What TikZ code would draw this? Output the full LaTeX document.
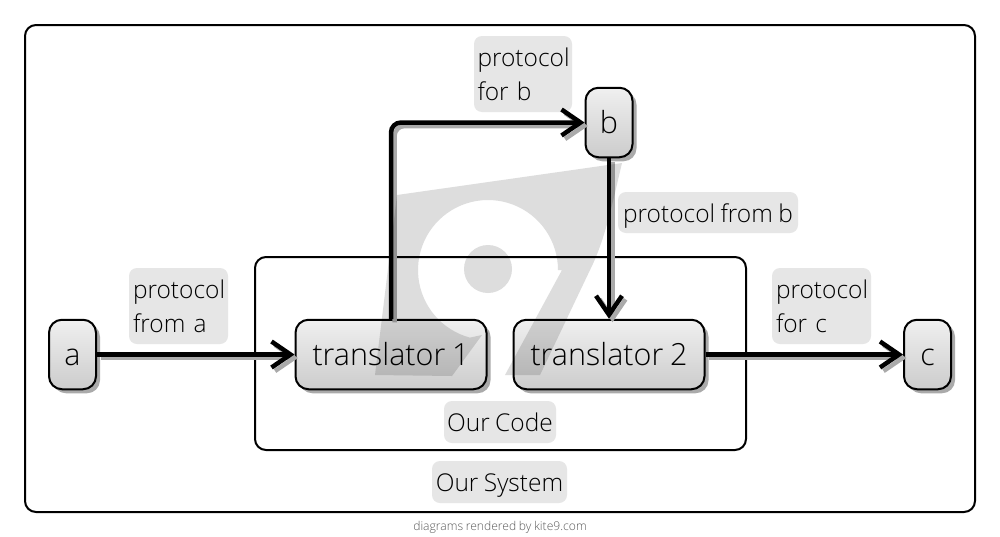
\documentclass[tikz,border=0pt]{standalone}
\usepackage{fontspec}
\setmainfont[WordSpace=0.85]{Open Sans Light}
\usetikzlibrary{arrows.meta,shadows}
\definecolor{logogray}{HTML}{DDDDDD}
\definecolor{labelgray}{HTML}{E6E6E6}
\definecolor{shadowgray}{HTML}{AAAAAA}
\tikzset{
  frame/.style={draw=black,line width=2pt,rounded corners=11pt,fill=none,inner sep=0pt},
  partbox/.style={draw=black,line width=2pt,rounded corners=13pt,inner sep=0pt,
    top color=white!94!black,bottom color=black!20,minimum height=69.5pt,
    text height=22.5pt,text depth=0pt,
    font=\fontsize{30.5}{34}\selectfont,
    general shadow={fill=shadowgray,shadow xshift=4pt,shadow yshift=-4pt}},
  tag/.style={fill=labelgray,rounded corners=8pt,inner sep=0pt,align=left,
    font=\fontsize{24.5}{34}\selectfont},
  onetag/.style={tag,align=center,text height=19pt,text depth=0pt},
  link/.style={draw=black,line width=4.5pt,rounded corners=10pt,
    -{Straight Barb[length=19pt,width=26pt,line width=4.5pt]}},
  linkshadow/.style={link,draw=shadowgray,transform canvas={shift={(3.5pt,-3.5pt)}}},
}
\begin{document}
\begin{tikzpicture}[x=1pt,y=-1pt]
\useasboundingbox (0,0) rectangle (1000,536);
\fill[white] (0,0) rectangle (1000,536);
% containers
\node[frame,minimum width=950pt,minimum height=487pt] (sys) at (500,268.5) {};
\node[frame,minimum width=491pt,minimum height=193pt] (code) at (500.5,353.5) {};
% labels
\node[tag,minimum width=99pt,minimum height=76pt,text width=91pt] (la) at (178.5,306) {protocol\\from a};
\node[tag,minimum width=98pt,minimum height=76pt,text width=91pt] (lb) at (523,74) {protocol\\for b};
\node[onetag,minimum width=180pt,minimum height=41pt] (lfb) at (708,212.5) {protocol from b};
\node[tag,minimum width=99pt,minimum height=76pt,text width=91pt] (lc) at (821.5,306) {protocol\\for c};
\node[onetag,minimum width=112pt,minimum height=42pt] (lcode) at (500,422) {Our Code};
\node[onetag,minimum width=135pt,minimum height=42pt] (lsys) at (499.5,482) {Our System};
% nodes (placed first so connectors can refer to them)
\node[partbox,minimum width=47pt] (a) at (72.5,354.5) {a};
\node[partbox,minimum width=47pt] (b) at (609,122.5) {b};
\node[partbox,minimum width=47pt] (c) at (927.5,354.5) {c};
\node[partbox,minimum width=191pt] (t1) at (391,354.5) {translator 1};
\node[partbox,minimum width=191pt] (t2) at (609,354.5) {translator 2};
% connectors: shadows
\draw[linkshadow] (a.east) -- (t1.west);
\draw[linkshadow] (t1.north) |- (b.west);
\draw[linkshadow] (b.south) -- (t2.north);
\draw[linkshadow] (t2.east) -- (c.west);
% connectors
\draw[link] (a.east) -- (t1.west);
\draw[link] (t1.north) |- (b.west);
\draw[link] (b.south) -- (t2.north);
\draw[link] (t2.east) -- (c.west);
% watermark logo
\begin{scope}[blend mode=multiply]
\fill[logogray] (375,375) -- (397,195) -- (622,163)
  .. controls (612,205) and (605,240) .. (590,270) -- (540,375) -- (505,375) -- (562,270)
  -- plot[domain=0:255,samples=60] ({488+70*cos(\x)},{270-70*sin(\x)})
  -- (482,335) -- (452,376) -- cycle;
\fill[logogray] (488,269) circle[radius=24];
\end{scope}
% footer
\node[text=black!65,font=\fontsize{12.1}{14}\selectfont,inner sep=0pt] (foot) at (500,527) {diagrams rendered by kite9.com};
\end{tikzpicture}
\end{document}
